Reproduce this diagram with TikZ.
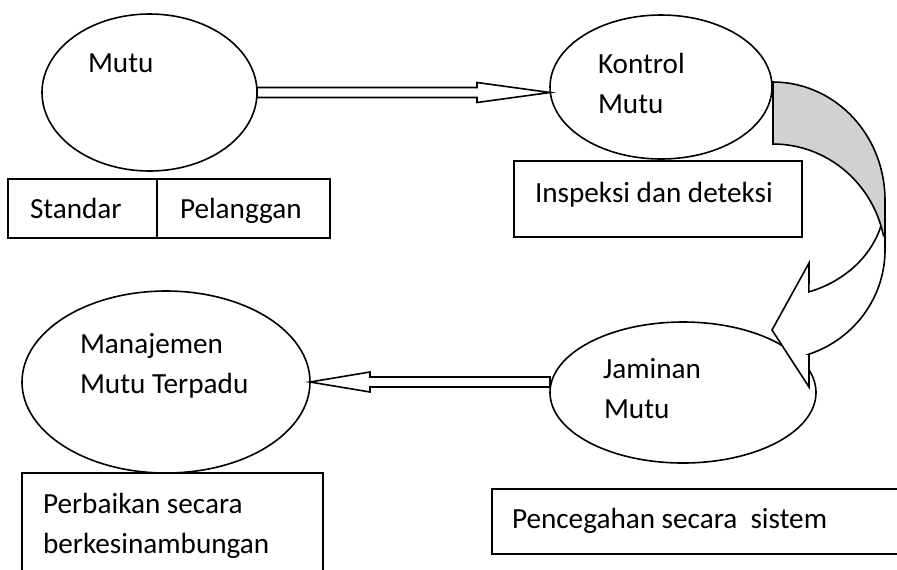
\documentclass[tikz,border=0pt]{standalone}
\usepackage{fontspec}
\setmainfont{Carlito}
\usetikzlibrary{shapes.geometric,calc}
\begin{document}
\begin{tikzpicture}[x=0.5pt,y=-0.5pt,
  lbl/.style={anchor=base west, inner sep=0pt, outer sep=0pt, font=\fontsize{14.6pt}{20pt}\selectfont},
  oval/.style={ellipse, draw, line width=0.8pt, inner sep=0pt, outer sep=0pt, fill=white},
  boxn/.style={rectangle, draw, line width=0.8pt, inner sep=0pt, outer sep=0pt},
  dblarrow/.style={draw, line width=0.8pt, fill=white, line join=miter},
  band/.style={draw, line width=0.8pt, line join=miter}]
\path[use as bounding box, clip] (0,0) rectangle (897,569);

% ellipses
\node[oval, minimum width=107.5pt, minimum height=78.5pt] (mutu) at (149.5,92.5) {};
\node[oval, minimum width=111pt, minimum height=72pt] (kontrol) at (661,87) {};
\node[oval, minimum width=133pt, minimum height=70.5pt] (jaminan) at (683,392.5) {};
\node[oval, minimum width=144pt, minimum height=91pt] (tqm) at (166,382) {};

% boxes
\node[boxn, minimum width=74.5pt, minimum height=29.5pt] (standar) at (82.5,208.5) {};
\node[boxn, minimum width=86.5pt, minimum height=29.5pt] (pelanggan) at (243.5,208.5) {};
\node[boxn, minimum width=144pt, minimum height=38pt] (inspeksi) at (658,199) {};
\node[boxn, minimum width=150.5pt, minimum height=60pt] (perbaikan) at (172.5,533) {};
\node[boxn, minimum width=210pt, minimum height=32.5pt] (pencegahan) at (702,521.5) {};

% labels
\node[lbl] (tmutu) at (88,72) {Mutu};
\node[lbl] (tkon1) at (598,73) {Kontrol};
\node[lbl] (tkon2) at (598,113) {Mutu};
\node[lbl] (tinsp) at (535,202) {Inspeksi dan deteksi};
\node[lbl] (tstd) at (30,218) {Standar};
\node[lbl] (tpel) at (180,218) {Pelanggan};
\node[lbl] (ttqm1) at (80,353) {Manajemen};
\node[lbl] (ttqm2) at (80,393) {Mutu Terpadu};
\node[lbl] (tjam1) at (603,378) {Jaminan};
\node[lbl] (tjam2) at (604,418) {Mutu};
\node[lbl] (tper1) at (43,513) {Perbaikan secara};
\node[lbl] (tper2) at (43,553) {berkesinambungan};
\node[lbl] (tpen) at (512,528) {Pencegahan secara\ \ sistem};

% straight double arrows
\coordinate (tipA) at (kontrol.west |- mutu.east);
\draw[dblarrow] ($(mutu.east)+(0,-5)$) -- ($(tipA)+(-73,-5)$) -- ($(tipA)+(-73,-10)$) -- (tipA)
  -- ($(tipA)+(-73,10)$) -- ($(tipA)+(-73,5)$) -- ($(mutu.east)+(0,5)$) -- cycle;
\coordinate (startB) at (jaminan.west |- tqm.east);
\draw[dblarrow] ($(startB)+(0,-5)$) -- ($(tqm.east)+(60,-5)$) -- ($(tqm.east)+(60,-10)$) -- (tqm.east)
  -- ($(tqm.east)+(60,10)$) -- ($(tqm.east)+(60,5)$) -- ($(startB)+(0,5)$) -- cycle;

% curved arrow: front (white) piece
\filldraw[band, fill=white] plot[domain=13.3:71.3, samples=30] ({773+112*cos(\x)},{200+97*sin(\x)})
  -- (809,263) -- (772,330) -- (809,387) -- (809,354.2)
  -- plot[domain=71.3:0, samples=30] ({773+112*cos(\x)},{250+110*sin(\x)})
  -- (885,222.3) -- cycle;
% curved arrow: back (grey) piece
\filldraw[band, fill=black!18] (773,82)
  -- plot[domain=90:0, samples=30] ({773+112*cos(\x)},{200-118*sin(\x)})
  -- (885,236)
  -- plot[domain=12:90, samples=30] ({773+113*cos(\x)},{260-116*sin(\x)}) -- cycle;
\end{tikzpicture}
\end{document}
